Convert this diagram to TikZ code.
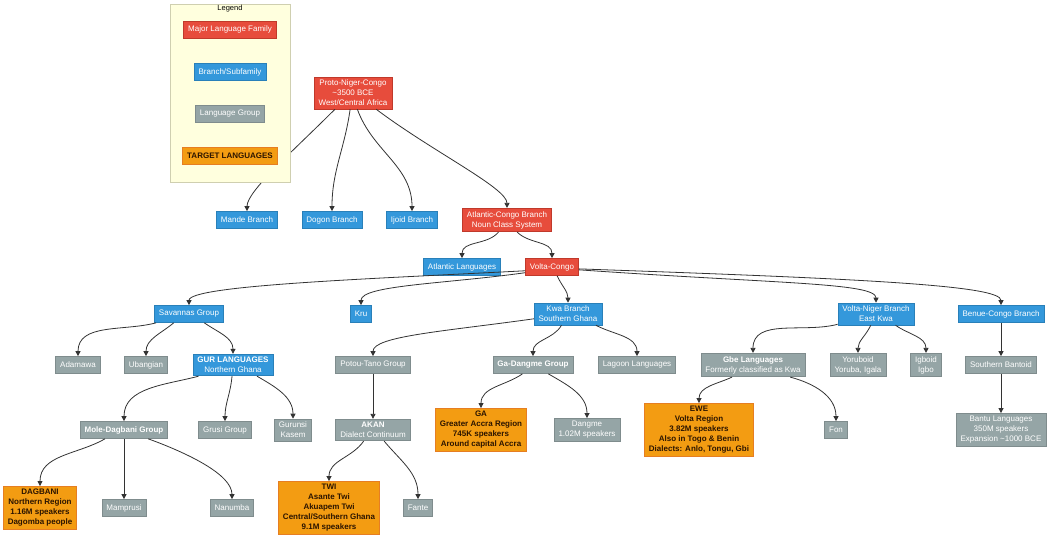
\documentclass[tikz,border=0pt]{standalone}
\usepackage{fontspec}
\setmainfont{Liberation Sans}
\usetikzlibrary{arrows.meta}
\definecolor{famred}{HTML}{E74C3C}\definecolor{famedge}{HTML}{C0392B}
\definecolor{subblue}{HTML}{3498DB}\definecolor{subedge}{HTML}{2980B9}
\definecolor{grpgray}{HTML}{95A5A6}\definecolor{grpedge}{HTML}{7F8C8D}
\definecolor{tgtorange}{HTML}{F39C12}\definecolor{tgtedge}{HTML}{E67E22}
\definecolor{tgttext}{HTML}{2B1400}
\definecolor{legfill}{HTML}{FFFFDE}\definecolor{legedge}{HTML}{CFCFB0}
\definecolor{linkgray}{HTML}{333333}
\tikzset{box/.style={draw,line width=0.7pt,inner xsep=4.5pt,inner ysep=3pt,minimum height=17pt,align=center,text=white,font=\fontsize{8}{10}\selectfont},
 fam/.style={box,fill=famred,draw=famedge},
 sub/.style={box,fill=subblue,draw=subedge},
 grp/.style={box,fill=grpgray,draw=grpedge},
 tgt/.style={box,fill=tgtorange,draw=tgtedge,text=tgttext,font=\fontsize{8}{10}\selectfont\bfseries},
 legbox/.style={draw=legedge,fill=legfill,line width=0.7pt,minimum width=120pt,minimum height=178pt,inner sep=0pt},
 link/.style={draw=linkgray,line width=0.8pt,-{Triangle[length=5pt,width=5pt]}}}

\begin{document}
\begin{tikzpicture}[x=1pt,y=1pt]
\useasboundingbox(0,0) rectangle (1050,-540);
\node[fam](pnc) at(353,-93){Proto-Niger-Congo\\\textasciitilde3500 BCE\\West/Central Africa};
\node[sub](mande) at(247,-220){Mande Branch};
\node[sub](dogon) at(332,-220){Dogon Branch};
\node[sub](ijoid) at(412,-220){Ijoid Branch};
\node[fam](ac) at(507,-220){Atlantic-Congo Branch\\Noun Class System};
\node[sub](atl) at(462,-267){Atlantic Languages};
\node[fam](vc) at(552,-267){Volta-Congo};
\node[sub](sav) at(189,-314){Savannas Group};
\node[sub](kru) at(361,-314){Kru};
\node[sub](kwa) at(568,-314){Kwa Branch\\Southern Ghana};
\node[sub](vn) at(876,-314){Volta-Niger Branch\\East Kwa};
\node[sub](bc) at(1001,-314){Benue-Congo Branch};
\node[grp](adam) at(78,-365){Adamawa};
\node[grp](uban) at(146,-365){Ubangian};
\node[sub](gur) at(233,-365){\textbf{GUR LANGUAGES}\\Northern Ghana};
\node[grp](pt) at(373,-365){Potou-Tano Group};
\node[grp](gd) at(533,-365){\textbf{Ga-Dangme Group}};
\node[grp](lag) at(637,-365){Lagoon Languages};
\node[grp](gbe) at(753,-365){\textbf{Gbe Languages}\\Formerly classified as Kwa};
\node[grp](yor) at(858,-365){Yoruboid\\Yoruba, Igala};
\node[grp](igb) at(926,-365){Igboid\\Igbo};
\node[grp](sb) at(1001,-365){Southern Bantoid};
\node[grp](mole) at(124,-430){\textbf{Mole-Dagbani Group}};
\node[grp](grusi) at(225,-430){Grusi Group};
\node[grp](gurunsi) at(293,-430){Gurunsi\\Kasem};
\node[grp](akan) at(373,-430){\textbf{AKAN}\\Dialect Continuum};
\node[tgt](ga) at(481,-430){GA\\Greater Accra Region\\745K speakers\\Around capital Accra};
\node[grp](dangme) at(587,-430){Dangme\\1.02M speakers};
\node[tgt](ewe) at(699,-430){EWE\\Volta Region\\3.82M speakers\\Also in Togo \& Benin\\Dialects: Anlo, Tongu, Gbi};
\node[grp](fon) at(836,-430){Fon};
\node[grp](bantu) at(1001,-430){Bantu Languages\\350M speakers\\Expansion \textasciitilde1000 BCE};
\node[tgt](dagbani) at(40,-508){DAGBANI\\Northern Region\\1.16M speakers\\Dagomba people};
\node[grp](mamp) at(124,-508){Mamprusi};
\node[grp](nan) at(232,-508){Nanumba};
\node[tgt](twi) at(329,-508){TWI\\Asante Twi\\Akuapem Twi\\Central/Southern Ghana\\9.1M speakers};
\node[grp](fante) at(418,-508){Fante};
\draw[link](pnc.-138) to[out=-135,in=90,out distance=60pt,in distance=20pt](mande.north);
\draw[link](pnc.-100) to[out=-98,in=90](dogon.north);
\draw[link](pnc.-75) to[out=-70,in=90](ijoid.north);
\draw[link](pnc.-35) to[out=-37,in=90,out distance=70pt,in distance=20pt](ac.north);
\draw[link](ac.-125) to[out=-130,in=90](atl.north);
\draw[link](ac.-50) to[out=-45,in=90](vc.north);
\draw[link](vc.188) to[out=183,in=90,out distance=150pt,in distance=20pt](sav.north);
\draw[link](vc.192) to[out=188,in=90,out distance=80pt,in distance=20pt](kru.north);
\draw[link](vc.-60) to[out=-65,in=90](kwa.north);
\draw[link](vc.-6) to[out=-4,in=90,out distance=200pt,in distance=20pt](vn.north);
\draw[link](vc.-4) to[out=-2,in=90,out distance=280pt,in distance=20pt](bc.north);
\draw[link](sav.-165) to[out=-165,in=90](adam.north);
\draw[link](sav.-150) to[out=-140,in=90](uban.north);
\draw[link](sav.-30) to[out=-35,in=90](gur.north);
\draw[link](gur.-162) to[out=-165,in=90](mole.north);
\draw[link](gur.-95) to[out=-95,in=90](grusi.north);
\draw[link](gur.-25) to[out=-30,in=90](gurunsi.north);
\draw[link](mole.-155) to[out=-150,in=90](dagbani.north);
\draw[link](mole)--(mamp);
\draw[link](mole.-20) to[out=-20,in=90,in distance=25pt](nan.north);
\draw[link](kwa.-172) to[out=-172,in=90,out distance=90pt,in distance=20pt](pt.north);
\draw[link](kwa.-120) to[out=-120,in=90](gd.north);
\draw[link](kwa.-22) to[out=-28,in=90](lag.north);
\draw[link](pt)--(akan);
\draw[link](gd.-140) to[out=-145,in=90](ga.north);
\draw[link](gd.-30) to[out=-30,in=90](dangme.north);
\draw[link](akan.-130) to[out=-125,in=90](twi.north);
\draw[link](akan.-45) to[out=-50,in=90](fante.north);
\draw[link](vn.-165) to[out=-165,in=90](gbe.north);
\draw[link](vn.-115) to[out=-115,in=90](yor.north);
\draw[link](vn.-30) to[out=-35,in=90](igb.north);
\draw[link](bc)--(sb);
\draw[link](sb)--(bantu);
\draw[link](gbe.-150) to[out=-155,in=90](ewe.north);
\draw[link](gbe.-18) to[out=-15,in=90,in distance=25pt](fon.north);
\node[legbox](leg) at(230,-93){};
\node[font=\fontsize{7.5}{9}\selectfont](legtitle) at(230,-9){Legend};
\node[fam](legfam) at(230,-29.5){Major Language Family};
\node[sub](legsub) at(230,-72){Branch/Subfamily};
\node[grp](leggrp) at(230,-114){Language Group};
\node[tgt](legtgt) at(230,-156){TARGET LANGUAGES};
\end{tikzpicture}
\end{document}
